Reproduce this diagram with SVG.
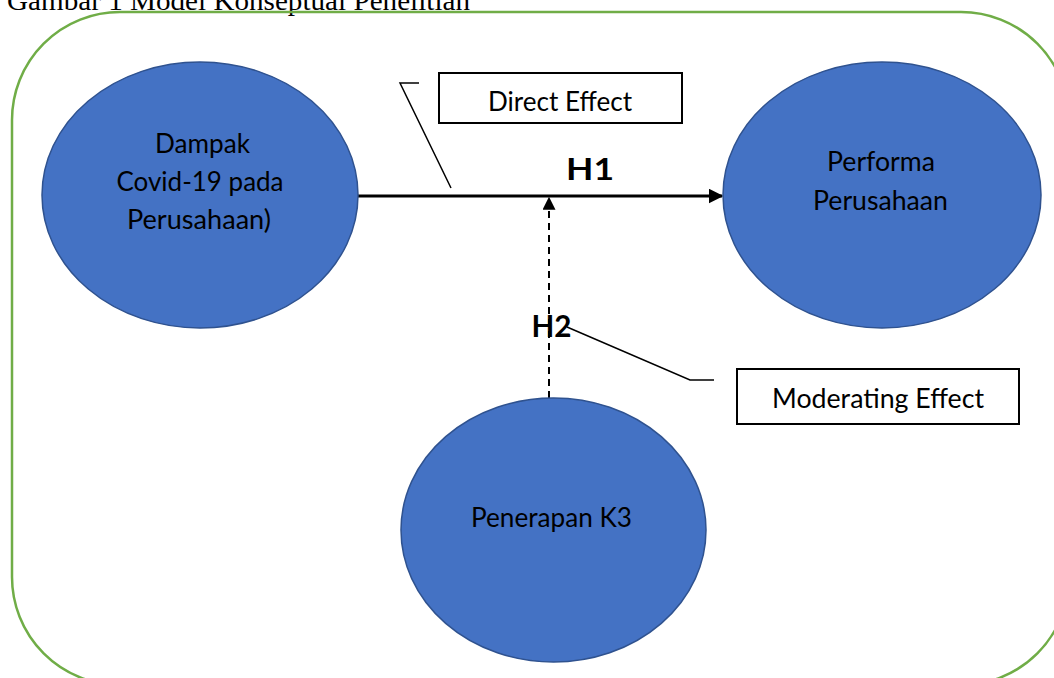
<svg xmlns="http://www.w3.org/2000/svg" width="1054" height="678" viewBox="0 0 1054 678">
<style>
.node{fill:#4472C4;stroke:#2F528F;stroke-width:1.5}
.lbl{font-family:Lato,"Open Sans",sans-serif;font-size:26px;fill:#000;text-anchor:middle}
.hyp{font-family:Lato,"Open Sans",sans-serif;font-size:30px;font-weight:bold;fill:#000;text-anchor:middle}
.box{fill:#fff;stroke:#000;stroke-width:2}
.call{fill:none;stroke:#000;stroke-width:1.5}
</style>
<defs>
<marker id="ah" viewBox="0 0 10 10" refX="9" refY="5" markerWidth="5" markerHeight="5" orient="auto" markerUnits="strokeWidth">
<path d="M0,0 L10,5 L0,10 z" fill="#000"/>
</marker>
<marker id="ah2" viewBox="0 0 10 10" refX="9" refY="5" markerWidth="6.5" markerHeight="6.5" orient="auto" markerUnits="strokeWidth">
<path d="M0,0 L10,5 L0,10 z" fill="#000"/>
</marker>
</defs>
<rect width="1054" height="678" fill="#fff"/>
<text x="7" y="10" font-family="'Liberation Serif',serif" font-size="27" textLength="463" lengthAdjust="spacingAndGlyphs">Gambar 1 Model Konseptual Penelitian</text>
<rect id="frame" x="12" y="12" width="1057" height="673" rx="108" ry="108" fill="none" stroke="#70AD47" stroke-width="2.5"/>
<g id="connectors">
<line x1="358" y1="196" x2="722" y2="196" stroke="#000" stroke-width="3" marker-end="url(#ah)"/>
<line x1="549" y1="398" x2="549" y2="198" stroke="#000" stroke-width="2" stroke-dasharray="7,5" marker-end="url(#ah2)"/>
<path class="call" d="M419,83 L400,83 L451,188"/>
<path class="call" d="M567,327 L690,380 L714,380"/>
</g>
<g id="n1">
<ellipse class="node" cx="200" cy="195" rx="158" ry="133"/>
<text class="lbl" x="202.5" y="153" textLength="95" lengthAdjust="spacingAndGlyphs">Dampak</text>
<text class="lbl" x="200" y="191" textLength="167" lengthAdjust="spacingAndGlyphs">Covid-19 pada</text>
<text class="lbl" x="199" y="229" textLength="144" lengthAdjust="spacingAndGlyphs">Perusahaan)</text>
</g>
<g id="n2">
<ellipse class="node" cx="882" cy="195" rx="159" ry="133"/>
<text class="lbl" x="881" y="171" textLength="108" lengthAdjust="spacingAndGlyphs">Performa</text>
<text class="lbl" x="880.5" y="210" textLength="135" lengthAdjust="spacingAndGlyphs">Perusahaan</text>
</g>
<g id="n3">
<ellipse class="node" cx="553.5" cy="530" rx="152.5" ry="132"/>
<text class="lbl" x="551.5" y="527" textLength="161" lengthAdjust="spacingAndGlyphs">Penerapan K3</text>
</g>
<g id="direct">
<rect class="box" x="439" y="73" width="243" height="50"/>
<text class="lbl" x="560" y="111" textLength="144" lengthAdjust="spacingAndGlyphs">Direct Effect</text>
</g>
<g id="moderating">
<rect class="box" x="737" y="369" width="282" height="55"/>
<text class="lbl" x="878" y="408" textLength="212" lengthAdjust="spacingAndGlyphs">Moderating Effect</text>
</g>
<g id="h1"><text class="hyp" x="590" y="180" textLength="48" lengthAdjust="spacingAndGlyphs">H1</text></g>
<g id="h2"><text class="hyp" x="551.5" y="337" textLength="40" lengthAdjust="spacingAndGlyphs">H2</text></g>
</svg>
